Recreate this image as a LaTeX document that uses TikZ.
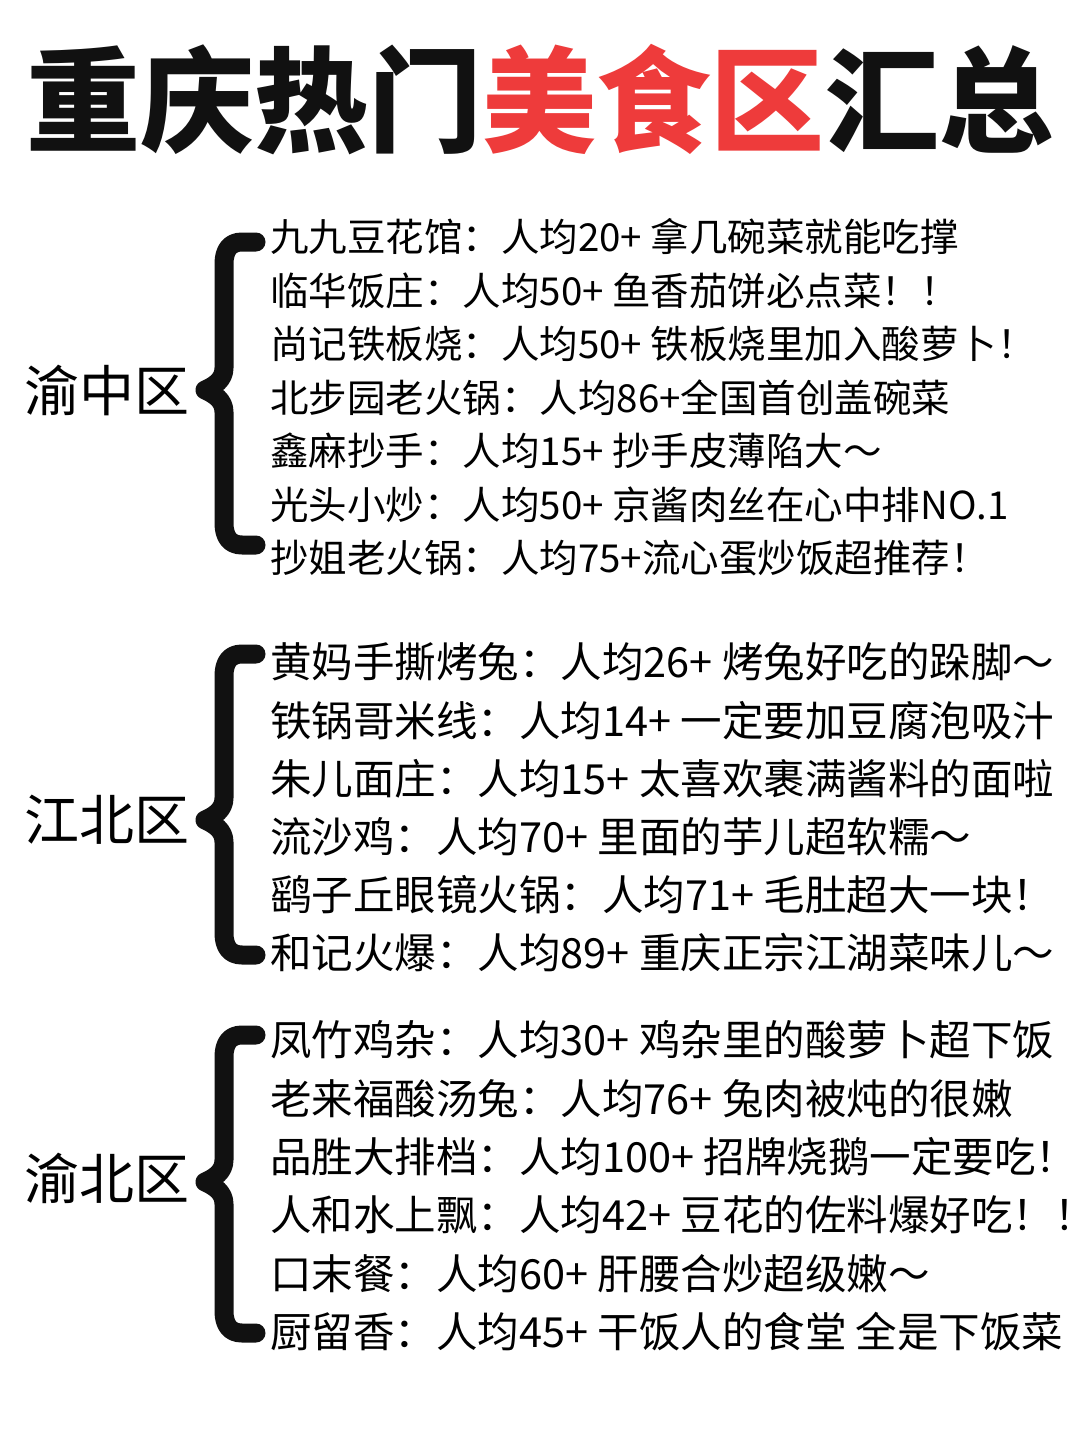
\documentclass[tikz,border=0pt]{standalone}
\usepackage{fontspec}
\newfontfamily\cjk{Noto Sans CJK SC}
\usetikzlibrary{positioning}

\definecolor{titlered}{HTML}{EE3B3B}
\definecolor{inkblack}{HTML}{111111}

\tikzset{
  title/.style={inner sep=0pt,font=\cjk\bfseries\fontsize{114}{114}\selectfont},
  district/.style={inner sep=0pt,anchor=west,font=\cjk\fontsize{55}{55}\selectfont},
  itemsmall/.style={inner sep=0pt,anchor=west,font=\cjk\fontsize{38.5}{38.5}\selectfont},
  itembig/.style={inner sep=0pt,anchor=west,font=\cjk\fontsize{41.5}{41.5}\selectfont},
  bracestroke/.style={inkblack,line width=19pt,line cap=round,line join=round}
}

\begin{document}
\begin{tikzpicture}[x=1pt,y=-1pt]
\useasboundingbox (0,0) rectangle (1080,1440);
\fill[white] (0,0) rectangle (1080,1440);

% title
\node[title] (heading) at (540,100) {\color{inkblack}重庆热门\color{titlered}美食区\color{inkblack}汇总};

% districts
\node[district] (yuzhong) at (24,390) {渝中区};
\node[district] (jiangbei) at (24,820) {江北区};
\node[district] (yubei) at (24,1178) {渝北区};

% braces
\draw[bracestroke] (256,242) -- (242,242) .. controls (230,242) and (224,250) .. (224,264)
  -- (224,368) .. controls (224,380) and (214,386) .. (205,390) .. controls (214,394) and (224,400) .. (224,412)
  -- (224,523) .. controls (224,537) and (230,545) .. (242,545) -- (256,545);
\draw[bracestroke] (256,654) -- (242,654) .. controls (230,654) and (224,662) .. (224,676)
  -- (224,798) .. controls (224,810) and (214,816) .. (205,820) .. controls (214,824) and (224,830) .. (224,842)
  -- (224,933) .. controls (224,947) and (230,955) .. (242,955) -- (256,955);
\draw[bracestroke] (256,1035) -- (242,1035) .. controls (230,1035) and (224,1043) .. (224,1057)
  -- (224,1160) .. controls (224,1172) and (214,1178) .. (205,1182) .. controls (214,1186) and (224,1192) .. (224,1204)
  -- (224,1311) .. controls (224,1325) and (230,1333) .. (242,1333) -- (256,1333);

% items
\foreach \t [count=\i] in {九九豆花馆：人均20+ 拿几碗菜就能吃撑,临华饭庄：人均50+ 鱼香茄饼必点菜！！,
  尚记铁板烧：人均50+ 铁板烧里加入酸萝卜！,北步园老火锅：人均86+全国首创盖碗菜,
  鑫麻抄手：人均15+ 抄手皮薄陷大～,光头小炒：人均50+ 京酱肉丝在心中排NO.1,
  抄姐老火锅：人均75+流心蛋炒饭超推荐！}
  \node[itemsmall] (yz\i) at (270,237+53.5*\i-53.5) {\t};

\foreach \t [count=\i] in {黄妈手撕烤兔：人均26+ 烤兔好吃的跺脚～,铁锅哥米线：人均14+ 一定要加豆腐泡吸汁,
  朱儿面庄：人均15+ 太喜欢裹满酱料的面啦,流沙鸡：人均70+ 里面的芋儿超软糯～,
  鹞子丘眼镜火锅：人均71+ 毛肚超大一块！,和记火爆：人均89+ 重庆正宗江湖菜味儿～}
  \node[itembig] (jb\i) at (270,662+58.2*\i-58.2) {\t};

\foreach \t [count=\i] in {凤竹鸡杂：人均30+ 鸡杂里的酸萝卜超下饭,老来福酸汤兔：人均76+ 兔肉被炖的很嫩,
  品胜大排档：人均100+ 招牌烧鹅一定要吃！,人和水上飘：人均42+ 豆花的佐料爆好吃！！\kern-0.6em,
  口末餐：人均60+ 肝腰合炒超级嫩～,厨留香：人均45+ 干饭人的食堂 全是下饭菜}
  \node[itembig] (yb\i) at (270,1040+58.4*\i-58.4) {\t};
\end{tikzpicture}
\end{document}
